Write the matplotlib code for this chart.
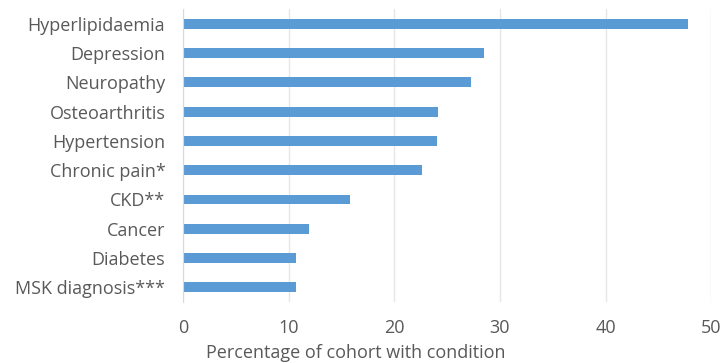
import matplotlib.pyplot as plt

# data
conditions = ['Hyperlipidaemia', 'Depression', 'Neuropathy', 'Osteoarthritis',
              'Hypertension', 'Chronic pain*', 'CKD**', 'Cancer', 'Diabetes',
              'MSK diagnosis***']
percent = [47.8, 28.5, 27.3, 24.1, 24.0, 22.6, 15.8, 11.9, 10.7, 10.7]
xticks = [0, 10, 20, 30, 40, 50]

plt.rcParams['font.family'] = ['Open Sans', 'DejaVu Sans']
text_col = '#595959'

fig = plt.figure(figsize=(7.24, 3.63), dpi=100)
ax = fig.add_axes([0.2532, 0.168, 0.729, 0.807])

ypos = list(range(len(conditions)))
ax.barh(ypos, percent, height=0.34, color='#5b9bd5', zorder=3)
ax.set_yticks(ypos)
ax.set_yticklabels(conditions)
ax.set_ylim(len(conditions) - 0.5, -0.5)

ax.set_xlim(0, 50)
ax.set_xticks(xticks)
ax.grid(axis='x', color='#e6e6e6', linewidth=1, zorder=0)

for side in ['top', 'right', 'bottom']:
    ax.spines[side].set_visible(False)
ax.spines['left'].set_color('#d9d9d9')
ax.spines['left'].set_zorder(4)

ax.tick_params(axis='both', length=0, labelsize=13, labelcolor=text_col)
ax.tick_params(axis='x', pad=12)
ax.tick_params(axis='y', pad=13)
ax.set_xlabel('Percentage of cohort with condition', fontsize=13,
              color=text_col, labelpad=0)
ax.xaxis.set_label_coords(0.327, -0.142)

fig.savefig('out.png', dpi=100)
